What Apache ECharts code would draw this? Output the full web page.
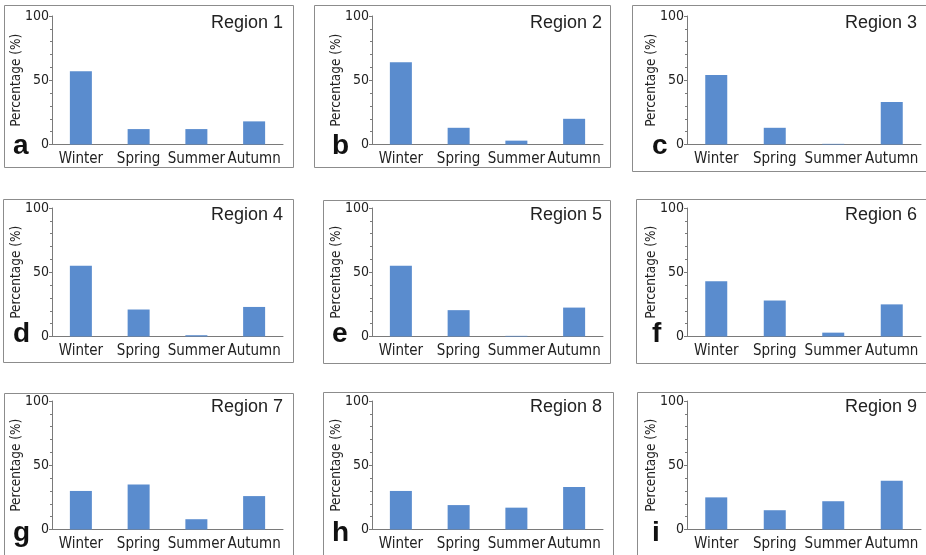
<!DOCTYPE html>
<html>
<head>
<meta charset="utf-8">
<script src="https://cdn.jsdelivr.net/npm/echarts@6/dist/echarts.min.js"></script>
<style>
  html, body { margin: 0; padding: 0; background: #fff; }
  #main { width: 926px; height: 555px; }
</style>
</head>
<body>
<div id="main"></div>
<script>
// seasonal share per region (%)
var seasons = ['Winter', 'Spring', 'Summer', 'Autumn'];
var region1 = [57, 12, 12, 18];
var region2 = [64, 13, 3, 20];
var region3 = [54, 13, 0.5, 33];
var region4 = [55, 21, 1, 23];
var region5 = [55, 20.5, 0.5, 22.5];
var region6 = [43, 28, 3, 25];
var region7 = [30, 35, 8, 26];
var region8 = [30, 19, 17, 33];
var region9 = [25, 15, 22, 38];
var regionNames = ['Region 1', 'Region 2', 'Region 3', 'Region 4', 'Region 5', 'Region 6', 'Region 7', 'Region 8', 'Region 9'];
var panelLetters = ['a', 'b', 'c', 'd', 'e', 'f', 'g', 'h', 'i'];
var yTicks = { min: 0, max: 100, step: 50 };

var allValues = [region1, region2, region3, region4, region5, region6, region7, region8, region9];

// layout (pixels)
var colLeft = [52, 372, 687];
var colWidth = [231, 231, 234];
var rowTop = [16, 208, 401];
var plotH = 128.5;
var boxes = [
  [4, 5, 289, 162], [314, 5, 296, 162], [632, 5, 300, 166],
  [3, 199, 290, 163], [323, 200, 287, 163], [636, 199, 300, 164],
  [4, 393, 289, 200], [323, 392, 290, 200], [637, 392, 300, 200]
];
var letterX = [13, 332, 652];
var letterBase = [160, 348, 547];
var regionRight = [283, 602, 917];
var regionMid = [23, 215, 407];

var narrow = '"Liberation Sans Narrow", "Arial Narrow", "DejaVu Sans Condensed", sans-serif';
var axisGray = '#7a7a7a';
var textCol = '#222';
var barBlue = '#5a8cce';

var grids = [], xAxes = [], yAxes = [], series = [], graphics = [];

for (var i = 0; i < 9; i++) {
  var col = i % 3, row = Math.floor(i / 3);
  grids.push({
    left: colLeft[col], top: rowTop[row], width: colWidth[col], height: plotH,
    outerBoundsMode: 'none'
  });
  xAxes.push({
    type: 'category', gridIndex: i, data: seasons,
    axisLine: { lineStyle: { color: axisGray, width: 1 } },
    axisTick: { length: 4, lineStyle: { color: axisGray } },
    axisLabel: { interval: 0, margin: 7, fontSize: 15, fontFamily: narrow, color: textCol, hideOverlap: false }
  });
  yAxes.push({
    type: 'value', gridIndex: i, min: yTicks.min, max: yTicks.max, interval: yTicks.step,
    name: 'Percentage (%)', nameLocation: 'middle', nameGap: 29, nameMoveOverlap: false,
    nameTextStyle: { fontSize: 13.5, fontFamily: narrow, color: textCol },
    axisLine: { show: true, lineStyle: { color: axisGray, width: 1 } },
    axisTick: { show: true, length: 3, lineStyle: { color: axisGray } },
    minorTick: { show: true, splitNumber: 5, length: 2, lineStyle: { color: axisGray } },
    splitLine: { show: false },
    axisLabel: { margin: 3, fontSize: 14, fontFamily: narrow, color: textCol }
  });
  series.push({
    type: 'bar', xAxisIndex: i, yAxisIndex: i, data: allValues[i],
    barWidth: 22, silent: true,
    itemStyle: { color: barBlue }
  });
  var b = boxes[i];
  graphics.push({
    type: 'rect', z: -1,
    shape: { x: b[0] + 0.5, y: b[1] + 0.5, width: b[2], height: b[3] },
    style: { fill: 'none', stroke: '#8c8c8c', lineWidth: 1 }
  });
  graphics.push({
    type: 'text',
    style: {
      x: regionRight[col], y: regionMid[row], text: regionNames[i],
      font: '18px "Liberation Sans", Arial, sans-serif', fill: textCol,
      textAlign: 'right', textVerticalAlign: 'middle'
    }
  });
  graphics.push({
    type: 'text',
    style: {
      x: letterX[col], y: letterBase[row], text: panelLetters[i],
      font: 'bold 28px "Liberation Sans", Arial, sans-serif', fill: '#111',
      textAlign: 'left', textVerticalAlign: 'bottom'
    }
  });
}

var chart = echarts.init(document.getElementById('main'), null, { renderer: 'canvas' });
chart.setOption({
  animation: false,
  backgroundColor: '#fff',
  grid: grids,
  xAxis: xAxes,
  yAxis: yAxes,
  series: series,
  graphic: graphics
});
</script>
</body>
</html>
